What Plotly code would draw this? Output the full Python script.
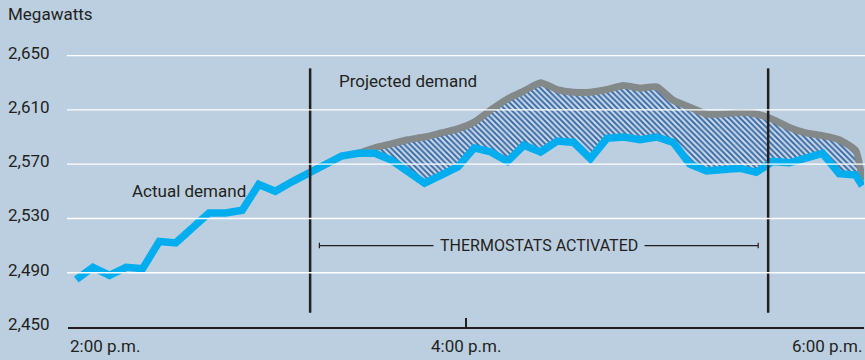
import plotly.graph_objects as go

# ---- data (minutes after 2:00 p.m., megawatts) ----
actual_minutes = [2.5, 7.5, 12.5, 17.5, 22.5, 27.5, 32.5, 37.5, 42.5, 47.5,
                  52.5, 57.5, 62.5, 67.5, 72.5, 77.5, 82.5, 87.5, 92.5, 97.5,
                  102.5, 107.5, 112.5, 117.5, 122.5, 127.5, 132.5, 137.5, 142.5, 147.5,
                  152.5, 157.5, 162.5, 167.5, 172.5, 177.5, 182.5, 187.5, 192.5, 197.5,
                  202.5, 207.5, 212.5, 217.5, 222.5, 227.5, 232.5, 237.5, 239.5]
actual_mw = [2485, 2494, 2488, 2494, 2493, 2513, 2512, 2523, 2534, 2534,
             2536, 2555, 2550, 2557, 2563, 2570, 2576, 2578, 2578, 2573,
             2565, 2556, 2562, 2568, 2582, 2579, 2572, 2584, 2579, 2587,
             2586, 2574, 2589, 2590, 2588, 2590, 2586, 2570, 2565, 2566,
             2567, 2564, 2572, 2571, 2574, 2578, 2563, 2562, 2554]

projected_minutes = [87.5, 92.5, 97.5, 102.5, 107.5, 112.5, 117.5, 122.5, 127.5, 132.5,
                     137.5, 142.5, 147.5, 152.5, 157.5, 162.5, 167.5, 172.5, 177.5, 182.5,
                     187.5, 192.5, 197.5, 202.5, 207.5, 212.5, 217.5, 222.5, 227.5, 232.5,
                     237.5, 239.5]
projected_mw = [2578, 2582, 2585, 2588, 2590, 2593, 2596, 2601, 2610, 2618,
                2624, 2630, 2625, 2623, 2623, 2625, 2628, 2626, 2627, 2617,
                2612, 2607, 2607, 2608, 2607, 2603, 2597, 2593, 2591, 2588,
                2580, 2558]

y_ticks = [2450, 2490, 2530, 2570, 2610, 2650]
x_tick_minutes = [0, 120, 240]
x_tick_labels = ["2:00 p.m.", "4:00 p.m.", "6:00 p.m."]

thermostat_on = 73.0      # vertical marker lines
thermostat_off = 211.1
bracket_start = 75.8
bracket_end = 208.1

# ---- style ----
BG = "#bccfe0"
INK = "#231f20"
BLUE = "#00aeef"
GRAY = "#838889"
FONT = "Roboto, Liberation Sans, sans-serif"
FS = 17

W, H = 865, 360
ML, MR, MT, MB = 68, 1, 40, 33
PW, PH = W - ML - MR, H - MT - MB
Y0 = 2450
Y1 = 2450 + PH / 1.357

def px_x(px):
    return (px - ML) / PW

def px_y(py):
    return (H - MB - py) / PH

# base for the hatched fill: actual demand over the projected span
base_x = [m for m in actual_minutes if m >= projected_minutes[0]]
base_y = [v for m, v in zip(actual_minutes, actual_mw) if m >= projected_minutes[0]]

fig = go.Figure()
fig.add_trace(go.Scatter(x=base_x, y=base_y, mode="lines",
                         line=dict(width=0, color=BLUE), hoverinfo="skip",
                         showlegend=False))
fig.add_trace(go.Scatter(x=projected_minutes, y=projected_mw, mode="lines",
                         line=dict(width=7, color=GRAY, shape="spline", smoothing=0.5),
                         fill="tonexty", fillcolor="#cddcec",
                         fillpattern=dict(shape="\\", fgcolor="#3b6ba4", fgopacity=1,
                                          bgcolor="#cddcec", size=4, solidity=0.5),
                         showlegend=False))
fig.add_trace(go.Scatter(x=actual_minutes, y=actual_mw, mode="lines",
                         line=dict(width=7.5, color=BLUE),
                         showlegend=False))

shapes = []
for m in (thermostat_on, thermostat_off):
    shapes.append(dict(type="line", xref="x", yref="y", x0=m, x1=m,
                       y0=2460.5, y1=2640.6, layer="above",
                       line=dict(color=INK, width=2.5)))
for v in y_ticks[1:]:
    shapes.append(dict(type="line", xref="paper", yref="y", x0=px_x(67), x1=px_x(866),
                       y0=v, y1=v, layer="above", line=dict(color="white", width=1.4)))
shapes.append(dict(type="line", xref="x", yref="y", x0=bracket_start, x1=bracket_end,
                   y0=2510, y1=2510, line=dict(color=INK, width=1.2)))
for m in (bracket_start, bracket_end):
    shapes.append(dict(type="line", xref="x", yref="y", x0=m, x1=m,
                       y0=2508, y1=2512, line=dict(color=INK, width=1.2)))

ann = []
font = dict(family=FONT, size=FS, color=INK)
ann.append(dict(text="Megawatts", xref="paper", yref="paper", x=px_x(6), y=px_y(14),
                xanchor="left", yanchor="middle", showarrow=False, font=font))
for v in y_ticks:
    ann.append(dict(text=f"{v:,}", xref="paper", yref="y", x=px_x(6), y=v, yshift=3,
                    xanchor="left", yanchor="middle", showarrow=False, font=font))
for m, lab, anc in zip(x_tick_minutes, x_tick_labels, ["left", "center", "right"]):
    ann.append(dict(text=lab, xref="x", yref="paper", x=m, y=px_y(346),
                    xanchor=anc, yanchor="middle", showarrow=False, font=font))
ann.append(dict(text="Projected demand", xref="x", yref="y", x=81.0, y=2631,
                xanchor="left", yanchor="middle", showarrow=False, font=font))
ann.append(dict(text="Actual demand", xref="x", yref="y", x=18.7, y=2550,
                xanchor="left", yanchor="middle", showarrow=False, font=font))
ann.append(dict(text="THERMOSTATS ACTIVATED", xref="x", yref="y",
                x=(bracket_start + bracket_end) / 2, y=2510,
                xanchor="center", yanchor="middle", showarrow=False,
                bgcolor=BG, borderpad=6, font=dict(family=FONT, size=16, color=INK)))

fig.update_layout(
    width=W, height=H, margin=dict(l=ML, r=MR, t=MT, b=MB),
    paper_bgcolor=BG, plot_bgcolor=BG,
    shapes=shapes, annotations=ann, showlegend=False,
    xaxis=dict(range=[0, 240], showgrid=False, zeroline=False, showline=True,
               linecolor=INK, linewidth=1.5, ticks="inside", ticklen=9,
               tickwidth=1.5, tickcolor=INK, tickvals=x_tick_minutes,
               showticklabels=False, fixedrange=True),
    yaxis=dict(range=[Y0, Y1], showgrid=False, zeroline=False, showline=False,
               showticklabels=False, ticks="", fixedrange=True),
)

post = ("document.body.style.margin='0';document.body.style.overflow='hidden';"
        "document.documentElement.style.background='%s';" % BG)
fig.write_html("out.html", post_script=post, config={"displayModeBar": False})
